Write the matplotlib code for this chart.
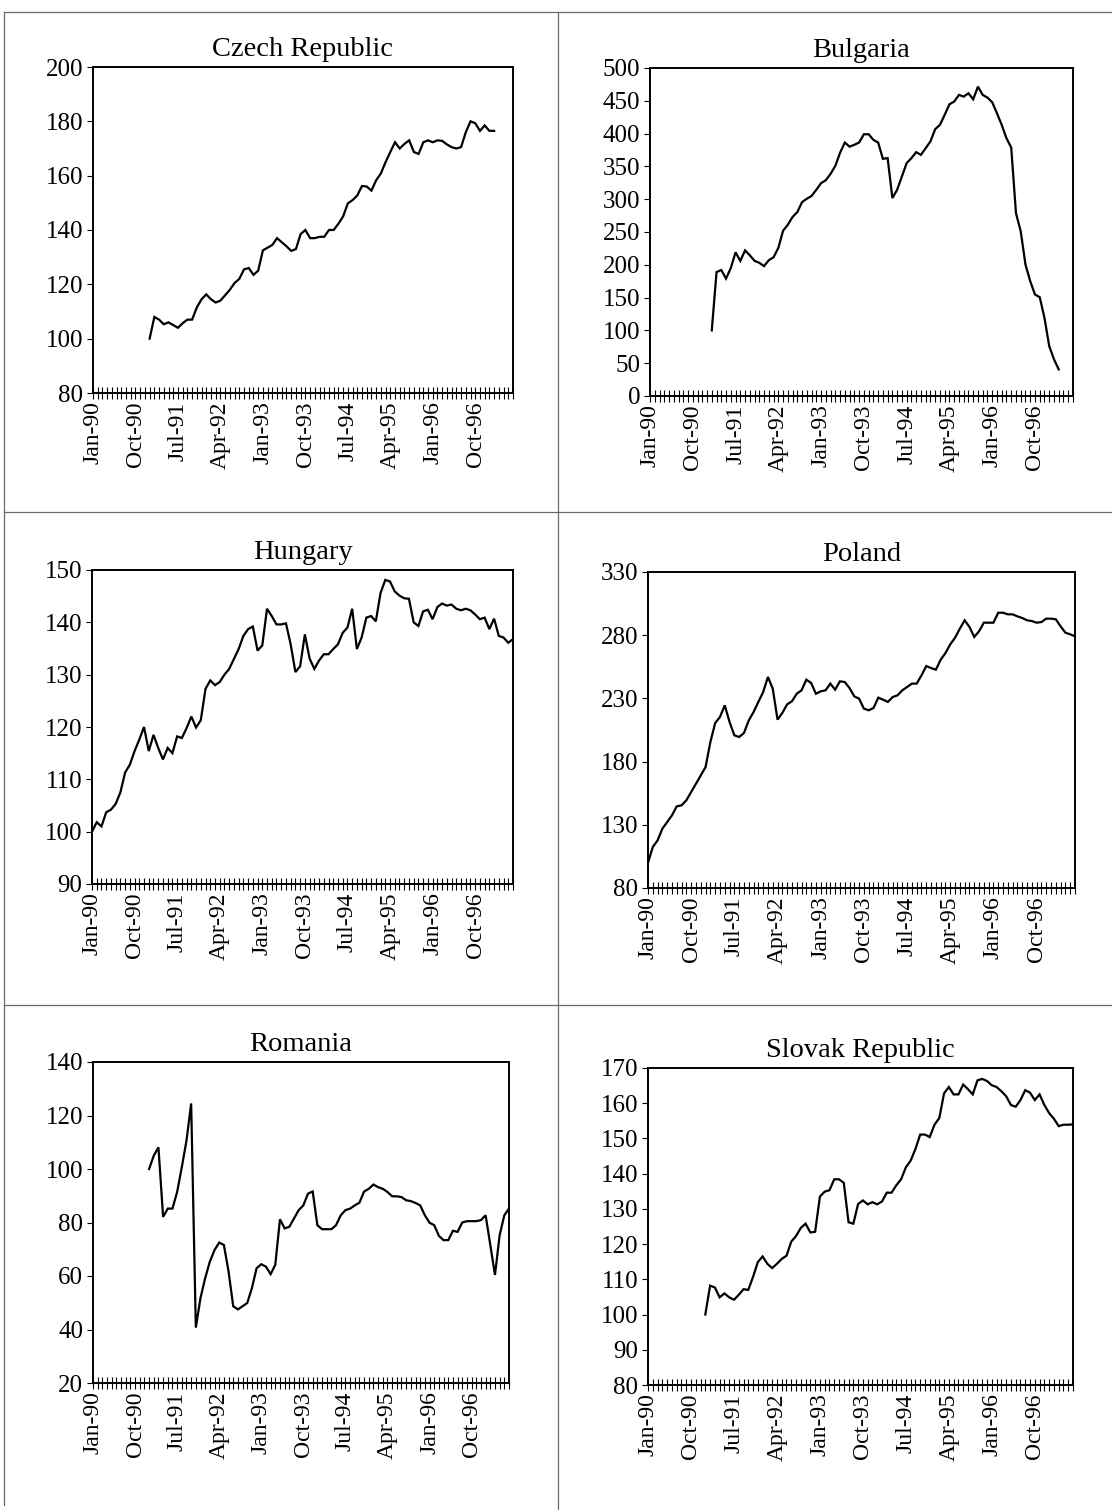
import matplotlib
matplotlib.use("Agg")
import matplotlib.pyplot as plt
from matplotlib.lines import Line2D
from matplotlib.ticker import FixedLocator
import pandas as pd

plt.rcParams["font.family"] = ["Liberation Serif", "DejaVu Serif"]

# monthly category axis, Jan-90 .. Jun-97
months = pd.date_range("1990-01-01", "1997-06-01", freq="MS")
month_labels = [d.strftime("%b-%y") for d in months]
LABEL_EVERY = 9

czech = [100, 108, 107, 105.3, 106, 105, 104, 105.7, 107, 107,
         111.5, 114.5, 116.3, 114.5, 113.3, 114, 116, 118, 120.5, 122,
         125.5, 126, 123.5, 125, 132.5, 133.5, 134.5, 137, 135.5, 134,
         132.3, 133, 138.5, 140, 137, 137, 137.5, 137.5, 140, 140,
         142.3, 145, 149.8, 151, 152.7, 156.2, 156, 154.5, 158.3, 160.8,
         165, 168.7, 172.3, 170, 171.7, 173, 168.7, 168, 172.3, 173,
         172.3, 173, 172.8, 171.5, 170.5, 170, 170.5, 176, 180, 179.3,
         176.5, 178.5, 176.5, 176.5]

bulgaria = [100, 189, 192, 179, 195, 219, 206, 222, 214.5, 206,
            203, 198, 207, 211.5, 225.7, 252, 261, 273, 280.4, 295.6,
            300.7, 305, 314.4, 324.5, 329, 338.7, 351, 371, 386.4, 380,
            383, 386.4, 399, 399, 390.5, 386.4, 361.6, 362.6, 301.7, 314.4,
            334.7, 355, 362.6, 371.7, 367.6, 377.8, 388, 406.7, 413.3, 428.5,
            444.7, 448.8, 459, 456.4, 461.5, 452.3, 471.6, 459, 454.9, 447.8,
            431, 413.3, 393, 378.8, 278.9, 251, 200.3, 175, 154.7, 150.6,
            119, 76, 55.8, 40.6]

hungary = [100, 101.8, 101, 103.7, 104.2, 105.3, 107.5, 111.3, 112.8, 115.4,
           117.6, 120, 115.4, 118.5, 116, 113.8, 116, 115, 118.2, 117.9,
           119.8, 122, 119.9, 121.3, 127.3, 128.9, 128, 128.6, 130, 131.1,
           133, 134.9, 137.4, 138.7, 139.2, 134.6, 135.6, 142.6, 141.2, 139.6,
           139.6, 139.8, 135.8, 130.5, 131.6, 137.7, 133.1, 131.1, 132.7, 133.9,
           133.9, 134.9, 135.8, 138, 139, 142.6, 134.9, 137.1, 140.9, 141.2,
           140.2, 145.6, 148.1, 147.8, 145.9, 145.1, 144.6, 144.5, 140, 139.3,
           142.1, 142.4, 140.6, 142.9, 143.6, 143.2, 143.4, 142.6, 142.3, 142.6,
           142.3, 141.5, 140.6, 140.9, 138.7, 140.7, 137.4, 137.1, 136.1, 136.8]

poland = [100, 112.4, 117.7, 127, 132.2, 137.5, 144.6, 145.4, 149.4, 156,
          162.5, 169.1, 175.7, 195.5, 210.5, 215.3, 224.5, 211.3, 200.8, 199.5,
          202.6, 212.6, 219.2, 227.2, 235, 247, 237.7, 213.2, 218.5, 225.3,
          227.7, 233.7, 236.4, 244.8, 242.2, 233.7, 235.6, 236.4, 241.7, 236.9,
          243.5, 243, 238.2, 231.6, 229.8, 221.9, 220.6, 222.4, 230.6, 229,
          227.2, 231.1, 232.4, 236.4, 239, 241.7, 241.7, 248.2, 255.6, 254,
          252.7, 260.6, 265.9, 272.8, 278, 285.2, 291.8, 286.5, 278.6, 283.1,
          289.9, 289.9, 289.9, 297.8, 297.8, 296.5, 296.5, 294.9, 293.6, 291.8,
          291.2, 289.9, 290.4, 293.1, 293.1, 292.6, 287, 282, 280.7, 279.1]

romania = [100, 105, 108.1, 82.1, 85.2, 85.2, 91.4, 100.7, 110.6, 124.5,
           40.7, 51.8, 59.2, 65.4, 69.7, 72.5, 71.6, 61.7, 48.7, 47.5,
           48.7, 49.9, 55.5, 62.9, 64.4, 63.5, 60.7, 64.2, 81.2, 77.8,
           78.4, 81.5, 84.6, 86.4, 90.8, 91.6, 79, 77.5, 77.5, 77.5,
           79, 82.7, 84.6, 85.2, 86.4, 87.4, 91.6, 92.6, 94.2, 93.2,
           92.6, 91.4, 89.8, 89.8, 89.5, 88.3, 88, 87.3, 86.4, 82.7,
           79.9, 79, 75, 73.4, 73.4, 76.9, 76.5, 80, 80.5, 80.5,
           80.5, 80.9, 82.7, 71.6, 60.4, 75.3, 82.7, 85.2]

slovakia = [100, 108.2, 107.7, 104.9, 106, 104.9, 104.2, 105.6, 107.2, 107,
            110.7, 114.9, 116.5, 114.4, 113.2, 114.4, 115.8, 116.7, 120.7, 122.3,
            124.6, 125.8, 123.3, 123.5, 133.5, 134.9, 135.3, 138.4, 138.4, 137.4,
            126.2, 125.8, 131.4, 132.4, 131.3, 131.9, 131.3, 132.1, 134.6, 134.6,
            136.7, 138.4, 141.8, 143.7, 147, 151.1, 151.1, 150.4, 153.9, 155.8,
            162.8, 164.6, 162.5, 162.5, 165.3, 164, 162.5, 166.5, 166.9, 166.3,
            165.1, 164.6, 163.4, 162, 159.5, 159, 160.9, 163.7, 163, 160.9,
            162.5, 159.5, 157.2, 155.6, 153.5, 153.9, 153.9, 154]

# (title, first month, values, y min, y max, y step)
panels = [
    ("Czech Republic", "Jan-91", czech, 80, 200, 20),
    ("Bulgaria", "Feb-91", bulgaria, 0, 500, 50),
    ("Hungary", "Jan-90", hungary, 90, 150, 10),
    ("Poland", "Jan-90", poland, 80, 330, 50),
    ("Romania", "Jan-91", romania, 20, 140, 20),
    ("Slovak Republic", "Jan-91", slovakia, 80, 170, 10),
]

W, H = 1112, 1510
# axes boxes in pixels: left, top, right, bottom
boxes = [
    (93, 67, 513, 393),
    (650, 68, 1073, 396),
    (92, 570, 513, 884),
    (648, 572, 1075, 888),
    (93, 1062, 509, 1383),
    (648, 1068, 1073, 1385),
]


def fig_line(fig, x0, y0, x1, y1):
    fig.add_artist(Line2D([x0 / W, x1 / W], [1 - y0 / H, 1 - y1 / H],
                          transform=fig.transFigure, color="#6a6a6a", lw=0.9))


def draw_panel(ax, title, start, values, ymin, ymax, ystep):
    i0 = month_labels.index(start)
    x = list(range(i0, i0 + len(values)))
    ax.plot(x, values, color="black", lw=1.6, solid_joinstyle="miter")
    ax.set_xlim(0, len(months) - 1)
    ax.set_ylim(ymin, ymax)
    ax.yaxis.set_major_locator(FixedLocator(range(ymin, ymax + 1, ystep)))
    major = list(range(0, len(months), LABEL_EVERY))
    ax.xaxis.set_major_locator(FixedLocator(major))
    ax.xaxis.set_minor_locator(FixedLocator(range(len(months))))
    ax.set_xticklabels([month_labels[i] for i in major], rotation=90)
    ax.tick_params(axis="x", which="both", direction="inout", length=8,
                   width=0.8, labelsize=17, pad=2)
    ax.tick_params(axis="y", direction="out", length=4, width=0.8,
                   labelsize=18, pad=3)
    for s in ax.spines.values():
        s.set_linewidth(1.4)
    ax.set_title(title, fontsize=20.5, pad=8)


fig = plt.figure(figsize=(W / 100, H / 100), dpi=100)
for (title, start, values, ymin, ymax, ystep), (l, t, r, b) in zip(panels, boxes):
    ax = fig.add_axes([l / W, 1 - b / H, (r - l) / W, (b - t) / H])
    draw_panel(ax, title, start, values, ymin, ymax, ystep)

# cell borders of the scanned table
fig_line(fig, 4, 12, W, 12)
fig_line(fig, 4, 12, 4, 1505)
fig_line(fig, 558, 12, 558, H)
fig_line(fig, 4, 512, W, 512)
fig_line(fig, 4, 1005, W, 1005)

fig.savefig("out.png", dpi=100, facecolor="white")
